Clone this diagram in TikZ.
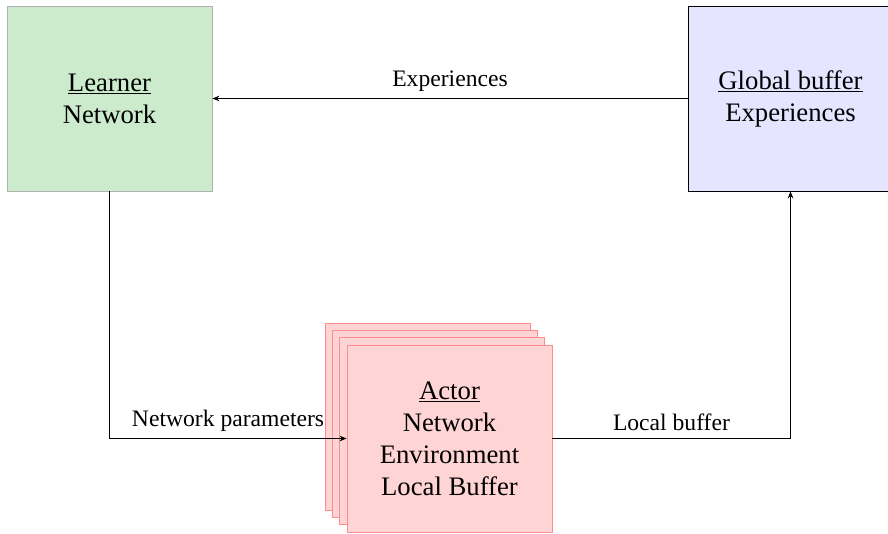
\documentclass[tikz,border=0pt]{standalone}
\usepackage{xcolor}
\usepackage{fontspec}
\setmainfont{Liberation Serif}
\usepackage{tikz}
\usetikzlibrary{arrows.meta}

\begin{document}
\begin{tikzpicture}[
    box/.style={draw, minimum width=5.125cm, minimum height=4.625cm, inner sep=0pt,
        align=center, font=\fontsize{19}{22.7}\selectfont},
    learnerbox/.style={box, draw=black!30, fill=green!60!black!20},
    globalbox/.style={box, draw=black, fill=blue!10},
    actorbox/.style={box, minimum height=4.675cm, draw=red!45, fill=red!17},
    lbl/.style={font=\fontsize{16.8}{20}\selectfont, inner sep=5pt},
    tip/.style={-{Stealth[length=5pt, width=4pt]}},
    line width=0.6pt]
    \useasboundingbox (0, 0) rectangle (22.2, 13.325);

    % top row
    \node[learnerbox] (learner) at (2.7375, 10.8625) {\underline{Learner}\\Network};
    \node[globalbox] (gbuffer) at (19.7625, 10.8625) {\underline{Global buffer}\\Experiences};

    % stack of actors
    \node[actorbox] (actor1) at (10.6875, 2.9125) {};
    \node[actorbox] (actor2) at (10.8708, 2.7292) {};
    \node[actorbox] (actor3) at (11.0542, 2.5458) {};
    \node[actorbox] (actor) at (11.2375, 2.3625) {\underline{Actor}\\Network\\Environment\\Local Buffer};

    \draw [tip] (gbuffer) -- node[lbl, above]{Experiences} (learner);
    \draw [tip] (learner) |- node[lbl, above, pos=0.75]{Network parameters} (actor);
    \draw [tip] (actor) -| node[lbl, above, pos=0.25]{Local buffer} (gbuffer);
\end{tikzpicture}
\end{document}
